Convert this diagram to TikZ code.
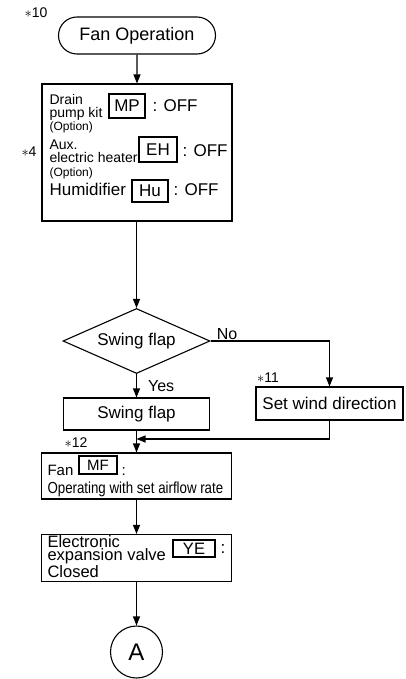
\documentclass[tikz,border=0pt]{standalone}
\usepackage{fontspec}
\setmainfont{Liberation Sans}
\newfontfamily\narrowfont[FakeStretch=0.83]{Liberation Sans}
\usetikzlibrary{positioning,shapes.geometric,shapes.misc,arrows.meta}

\begin{document}
\begin{tikzpicture}[x=1pt,y=-1pt,
    line width=1.1pt,
    proc/.style={draw,line width=1.1pt,inner sep=0pt,font=\fontsize{17}{19}\selectfont},
    term/.style={proc,rounded rectangle,minimum width=157pt,minimum height=37pt,
                 font=\fontsize{18}{20}\selectfont},
    decide/.style={proc,diamond,aspect=2.3,minimum width=147pt,minimum height=65pt},
    tag/.style={draw,line width=1.1pt,inner sep=0pt,font=\fontsize{17}{19}\selectfont},
    txt/.style={inner sep=0pt,anchor=base west},
    small/.style={txt,font=\fontsize{14}{14}\selectfont},
    opt/.style={txt,font=\fontsize{12}{12}\selectfont},
    big/.style={txt,font=\fontsize{17}{19}\selectfont},
    narrow/.style={txt,font=\fontsize{16}{18}\narrowfont},
    note/.style={inner sep=0pt,font=\fontsize{14}{14}\selectfont},
    arr/.style={-{Triangle[length=9pt,width=7pt]},line width=1.1pt}]
  \useasboundingbox (0,0) rectangle (405,679);
  \node[term] (fanop) at (137,35.5) {Fan Operation};
  \node[note] (n10) at (36,13) {$\ast$10};
  \node[proc,minimum width=190pt,minimum height=137pt] (stop) at (137,152.5) {};
  \node[note] (n4) at (29,152) {$\ast$4};
  \node[small] (drain) at (49,105) {Drain};
  \node[small] (pump) at (49,118) {pump kit};
  \node[opt] (opt1) at (49,131) {(Option)};
  \node[small] (aux) at (49,149.5) {Aux.};
  \node[small] (elec) at (49,162) {electric heater};
  \node[opt] (opt2) at (49,176) {(Option)};
  \node[big] (humid) at (49,195) {Humidifier};
  \node[tag,minimum width=36pt,minimum height=24pt] (mp) at (127,106) {MP};
  \node[tag,minimum width=38pt,minimum height=25pt] (eh) at (158,149.5) {EH};
  \node[tag,minimum width=36pt,minimum height=22pt] (hu) at (150,191) {Hu};
  \node[big] (off1) at (152,112) {: OFF};
  \node[big] (off2) at (182,157) {: OFF};
  \node[big] (off3) at (173,195) {: OFF};
  \node[decide] (sw) at (136.5,341) {Swing flap};
  \node[proc,minimum width=146pt,minimum height=32pt] (swbox) at (136.5,414) {Swing flap};
  \node[proc,minimum width=147pt,minimum height=33pt] (wind) at (329.5,403.5) {Set wind direction};
  \node[note] (n11) at (268,378) {$\ast$11};
  \node[note] (n12) at (76,443) {$\ast$12};
  \coordinate (join) at (136.5,439);
  \node[proc,minimum width=190pt,minimum height=46pt] (fanbox) at (136.5,476) {};
  \node[txt,font=\fontsize{15}{17}\selectfont] (fan) at (47,475) {Fan};
  \node[tag,minimum width=38pt,minimum height=18pt,font=\fontsize{15}{17}\selectfont] (mf) at (98,465) {MF};
  \node[txt,font=\fontsize{15}{17}\selectfont] (col1) at (121,475) {:};
  \node[narrow] (oper) at (47,493) {Operating with set airflow rate};
  \node[proc,minimum width=190pt,minimum height=47pt] (eev) at (136.5,558) {};
  \node[txt,align=left,font=\fontsize{16.5}{13.5}\selectfont] (valve) at (47,577)
       {Electronic\\expansion valve\\Closed};
  \node[tag,minimum width=42pt,minimum height=17pt,font=\fontsize{16.5}{18}\selectfont] (ye) at (194,548.5) {YE};
  \node[big] (col2) at (220,553) {:};
  \node[draw,circle,line width=1.1pt,minimum size=52pt,inner sep=0pt,
        font=\fontsize{24}{26}\selectfont] (conA) at (136.5,652) {A};
  \draw[arr] (fanop) -- (stop);
  \draw[arr] (stop.south -| sw.north) -- (sw);
  \draw[arr] (sw) -- node[right,inner sep=0pt,xshift=11pt,font=\fontsize{16}{18}\selectfont] {Yes} (swbox);
  \draw[arr] (sw.east) -| node[pos=0.02,anchor=south west,inner sep=1pt,
                              font=\fontsize{16}{18}\selectfont] {No} (wind);
  \draw[arr] (wind.south) |- (join);
  \draw[arr] (swbox) -- (fanbox);
  \draw[arr] (fanbox) -- (eev);
  \draw[arr] (eev) -- (conA);
\end{tikzpicture}
\end{document}
